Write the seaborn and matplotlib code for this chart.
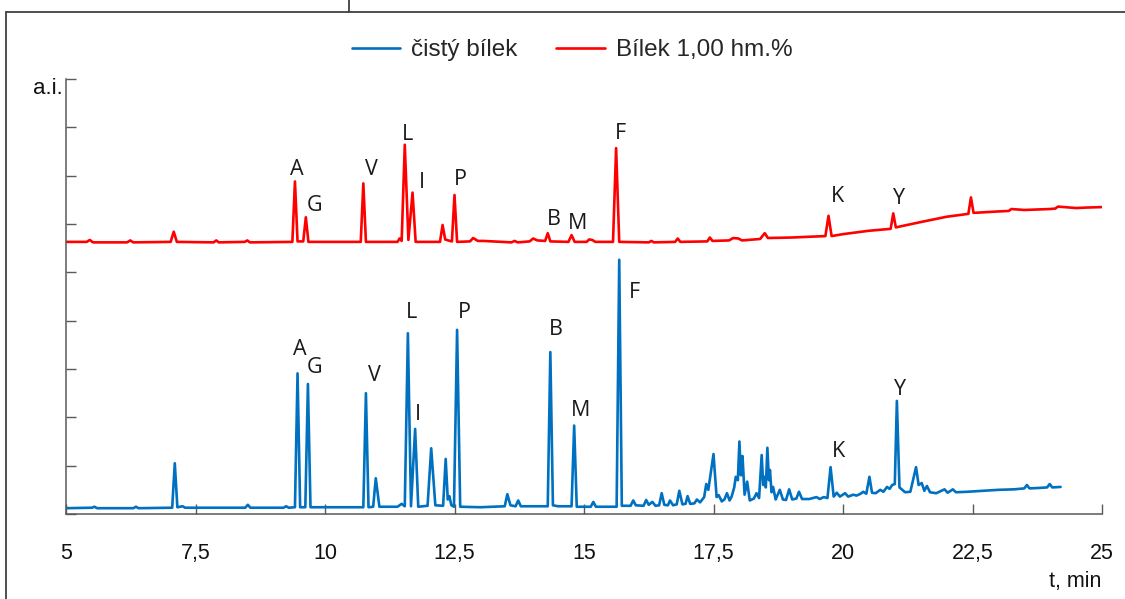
import matplotlib
matplotlib.use("Agg")
import matplotlib.pyplot as plt
from matplotlib.lines import Line2D
import pandas as pd
import seaborn as sns

# Retention time (min) and detector response (a.i.) for the egg-white sample with additive
red_time = [5.00, 5.40, 5.46, 5.52, 6.18, 6.24, 6.30, 7.02, 7.08, 7.14, 7.85, 7.90, 7.95,
            8.45, 8.50, 8.55, 9.37, 9.42, 9.47, 9.58, 9.63, 9.68, 10.69, 10.74, 10.79,
            11.40, 11.44, 11.48, 11.54, 11.61, 11.69, 11.75, 12.22, 12.27, 12.32, 12.38,
            12.45, 12.50, 12.55, 12.80, 12.86, 12.95, 13.05, 13.60, 13.66, 13.72, 13.95,
            14.02, 14.10, 14.25, 14.30, 14.35, 14.70, 14.76, 14.82, 15.05, 15.10, 15.16,
            15.22, 15.56, 15.62, 15.68, 16.25, 16.30, 16.35, 16.76, 16.81, 16.86, 17.38,
            17.43, 17.48, 17.80, 17.88, 17.98, 18.05, 18.40, 18.49, 18.55, 19.00, 19.66,
            19.72, 19.78, 20.00, 20.50, 20.92, 20.97, 21.02, 21.50, 22.00, 22.42, 22.47,
            22.52, 23.00, 23.20, 23.25, 23.50, 24.00, 24.10, 24.15, 24.50, 24.70, 25.00]
red_signal = [5.63, 5.63, 5.67, 5.62, 5.62, 5.66, 5.62, 5.63, 5.84, 5.63, 5.62, 5.66, 5.62,
              5.63, 5.66, 5.62, 5.63, 6.88, 5.64, 5.64, 6.14, 5.63, 5.63, 6.84, 5.63,
              5.63, 5.70, 5.65, 7.64, 5.67, 6.65, 5.63, 5.63, 5.98, 5.68, 5.66,
              5.64, 6.60, 5.63, 5.64, 5.71, 5.65, 5.65, 5.62, 5.65, 5.62, 5.64,
              5.70, 5.66, 5.65, 5.81, 5.64, 5.63, 5.77, 5.63, 5.63, 5.68, 5.67,
              5.63, 5.63, 7.57, 5.63, 5.62, 5.65, 5.62, 5.63, 5.70, 5.63, 5.64,
              5.72, 5.65, 5.66, 5.71, 5.70, 5.66, 5.69, 5.81, 5.71, 5.72, 5.75,
              6.17, 5.75, 5.79, 5.86, 5.90, 6.22, 5.93, 6.04, 6.15, 6.21, 6.55,
              6.23, 6.26, 6.27, 6.31, 6.29, 6.31, 6.32, 6.36, 6.33, 6.34, 6.35]

# Retention time (min) and detector response (a.i.) for the pure egg white
blue_time = [5.00, 5.50, 5.55, 5.60, 6.30, 6.35, 6.40, 7.05, 7.10, 7.15, 7.25, 7.30, 8.46,
             8.51, 8.56, 9.20, 9.25, 9.30, 9.42, 9.47, 9.52, 9.62, 9.67, 9.72, 10.74,
             10.79, 10.84, 10.93, 10.98, 11.05, 11.40, 11.48, 11.54, 11.60, 11.66, 11.74,
             11.80, 11.98, 12.05, 12.13, 12.28, 12.33, 12.37, 12.40, 12.44, 12.49, 12.55,
             12.61, 13.00, 13.47, 13.52, 13.58, 13.68, 13.73, 13.78, 14.30, 14.35, 14.40,
             14.50, 14.76, 14.81, 14.86, 15.13, 15.18, 15.23, 15.63, 15.68, 15.73, 15.90,
             15.95, 16.00, 16.15, 16.20, 16.25, 16.32, 16.38, 16.45, 16.50, 16.55, 16.62,
             16.66, 16.72, 16.79, 16.84, 16.90, 16.96, 17.00, 17.05, 17.13, 17.18, 17.24,
             17.32, 17.36, 17.40, 17.50, 17.56, 17.60, 17.66, 17.71, 17.76, 17.81, 17.85,
             17.90, 17.93, 17.97, 18.00, 18.03, 18.06, 18.10, 18.15, 18.20, 18.28, 18.33,
             18.38, 18.43, 18.46, 18.48, 18.51, 18.54, 18.57, 18.59, 18.62, 18.65, 18.70,
             18.78, 18.84, 18.90, 18.96, 19.02, 19.10, 19.15, 19.21, 19.35, 19.49, 19.55,
             19.63, 19.70, 19.76, 19.82, 19.88, 19.94, 20.04, 20.10, 20.20, 20.26, 20.34,
             20.39, 20.45, 20.51, 20.56, 20.63, 20.72, 20.78, 20.85, 20.90, 20.95, 21.00,
             21.04, 21.09, 21.20, 21.30, 21.41, 21.46, 21.52, 21.57, 21.62, 21.68, 21.80,
             21.96, 22.02, 22.12, 22.18, 22.40, 22.70, 23.00, 23.30, 23.50, 23.55, 23.60,
             23.80, 23.94, 23.99, 24.04, 24.20]
blue_signal = [0.12, 0.13, 0.15, 0.12, 0.12, 0.15, 0.12, 0.13, 1.05, 0.14, 0.16, 0.13, 0.13,
               0.19, 0.13, 0.13, 0.16, 0.13, 0.14, 2.91, 0.14, 0.14, 2.69, 0.14, 0.14,
               2.50, 0.14, 0.15, 0.74, 0.15, 0.15, 0.21, 0.16, 3.74, 0.16, 1.76,
               0.15, 0.17, 1.36, 0.18, 0.17, 1.14, 0.30, 0.37, 0.18, 0.15, 3.81,
               0.15, 0.14, 0.16, 0.41, 0.18, 0.16, 0.28, 0.16, 0.16, 3.35, 0.18,
               0.16, 0.16, 1.83, 0.15, 0.15, 0.25, 0.15, 0.15, 5.26, 0.17, 0.17,
               0.28, 0.18, 0.17, 0.29, 0.19, 0.25, 0.17, 0.18, 0.43, 0.19, 0.18,
               0.28, 0.18, 0.20, 0.48, 0.20, 0.21, 0.37, 0.21, 0.22, 0.30, 0.24,
               0.35, 0.62, 0.50, 1.24, 0.35, 0.39, 0.26, 0.30, 0.43, 0.28, 0.36,
               0.55, 0.77, 0.70, 1.50, 0.80, 1.20, 0.40, 0.67, 0.28, 0.32, 0.43,
               0.33, 1.22, 0.60, 0.77, 0.55, 1.37, 0.70, 0.91, 0.45, 0.56, 0.30,
               0.50, 0.30, 0.29, 0.51, 0.30, 0.32, 0.46, 0.31, 0.31, 0.35, 0.31,
               0.35, 0.33, 0.97, 0.36, 0.44, 0.36, 0.43, 0.36, 0.40, 0.38, 0.42,
               0.46, 0.42, 0.77, 0.44, 0.43, 0.50, 0.46, 0.56, 0.52, 0.60, 0.62,
               2.34, 0.55, 0.45, 0.46, 0.97, 0.60, 0.64, 0.48, 0.58, 0.45, 0.43,
               0.51, 0.44, 0.51, 0.45, 0.46, 0.48, 0.50, 0.51, 0.53, 0.60, 0.53,
               0.54, 0.55, 0.62, 0.55, 0.56]

series_names = ["čistý bílek", "Bílek 1,00 hm.%"]
peak_names = ["A", "G", "V", "L", "I", "P", "B", "M", "F", "K", "Y"]
red_peak_times = [9.42, 9.63, 10.74, 11.54, 11.69, 12.50, 14.30, 14.76, 15.62, 19.72, 20.97]
blue_peak_times = [9.47, 9.67, 10.79, 11.60, 11.74, 12.55, 14.35, 14.81, 15.68, 19.76, 21.04]
x_ticks = [5, 7.5, 10, 12.5, 15, 17.5, 20, 22.5, 25]
x_tick_labels = ["5", "7,5", "10", "12,5", "15", "17,5", "20", "22,5", "25"]

# label placement relative to each peak apex, in pixels (right, up)
red_label_offsets = [(2, 12), (9, 12), (8, 14), (3, 10), (9, 10), (6, 16),
                     (6, 14), (6, 12), (4, 15), (9, 19), (6, 15)]
blue_label_offsets = [(2, 24), (7, 16), (9, 18), (4, 21), (3, 14), (7, 17),
                      (5, 23), (6, 15), (15, -33), (8, 16), (3, 11)]

BLUE = "#0070C0"
RED = "#FF0000"
AXIS_GREY = "#595959"
NARROW = ["Liberation Sans Narrow", "Liberation Sans", "DejaVu Sans"]

sns.set_theme(style="white")
plt.rcParams["font.family"] = ["Liberation Sans", "DejaVu Sans"]

W, H = 1125, 599
fig = plt.figure(figsize=(W / 100, H / 100), dpi=100)
ax = fig.add_axes([66 / W, 85 / H, 1036 / W, 435 / H])

blue_df = pd.DataFrame({"t": blue_time, "signal": blue_signal})
red_df = pd.DataFrame({"t": red_time, "signal": red_signal})
sns.lineplot(data=blue_df, x="t", y="signal", ax=ax, color=BLUE, linewidth=1.9,
             estimator=None, sort=False, label=series_names[0])
sns.lineplot(data=red_df, x="t", y="signal", ax=ax, color=RED, linewidth=1.9,
             estimator=None, sort=False, label=series_names[1])

ax.set_xlim(5, 25)
ax.set_ylim(0, 9)
ax.set_xticks(x_ticks)
ax.set_xticklabels(x_tick_labels, family=NARROW)
ax.set_yticks(range(10))
ax.set_yticklabels([])
ax.set_xlabel("")
ax.set_ylabel("")
ax.tick_params(axis="both", direction="in", length=7, width=1, color=AXIS_GREY,
               bottom=True, left=True)
ax.tick_params(axis="x", pad=21, labelsize=15.5, labelcolor="#111111")
for side in ("top", "right"):
    ax.spines[side].set_visible(False)
for side in ("left", "bottom"):
    ax.spines[side].set_color(AXIS_GREY)
    ax.spines[side].set_linewidth(1.1)

# peak letters
def label_peaks(times, signal, peak_times, offsets):
    lookup = dict(zip(times, signal))
    for name, t, (dx, dy) in zip(peak_names, peak_times, offsets):
        ax.annotate(name, xy=(t, lookup[t]), xytext=(dx, dy), textcoords="offset pixels",
                    ha="center", va="center", fontsize=15.5, color="#1a1a1a",
                    family=["Open Sans", "DejaVu Sans"])

label_peaks(red_time, red_signal, red_peak_times, red_label_offsets)
label_peaks(blue_time, blue_signal, blue_peak_times, blue_label_offsets)

handles, labels = ax.get_legend_handles_labels()
ax.get_legend().remove()
fig.legend(handles, labels, loc="center", bbox_to_anchor=(572 / W, 1 - 50 / H),
           ncol=2, frameon=False, fontsize=17.5, handlelength=2.0, handletextpad=0.45,
           columnspacing=1.6)

fig.text(48 / W, 1 - 88 / H, "a.i.", ha="center", va="center", fontsize=16, color="#111111")
fig.text(1101 / W, 1 - 581 / H, "t, min", ha="right", va="center", fontsize=15.5,
         color="#111111", family=NARROW)

# outer frame
frame_kw = dict(transform=fig.transFigure, color="#404040", linewidth=1.3)
fig.add_artist(Line2D([6 / W, 6 / W], [0, 1 - 12 / H], **frame_kw))
fig.add_artist(Line2D([6 / W, 1], [1 - 12 / H, 1 - 12 / H], **frame_kw))
fig.add_artist(Line2D([349 / W, 349 / W], [1 - 12 / H, 1], **frame_kw))

fig.savefig("out.png", dpi=100)
